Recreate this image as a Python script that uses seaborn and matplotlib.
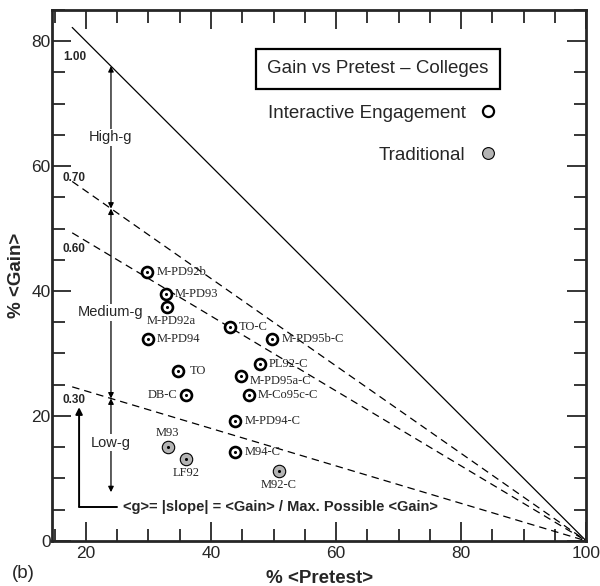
import matplotlib
matplotlib.use("Agg")
import numpy as np
import pandas as pd
import matplotlib.pyplot as plt
import seaborn as sns
from matplotlib.lines import Line2D
from matplotlib.ticker import MultipleLocator

# =========================================================
# DATA
# =========================================================

ie_labels = ["M-PD92b", "M-PD93", "M-PD92a", "M-PD94", "TO-C", "M-PD95b-C",
             "PL92-C", "TO", "M-PD95a-C", "DB-C", "M-Co95c-C", "M-PD94-C", "M94-C"]
ie_pretest = [29.8, 32.8, 33.0, 29.9, 43.0, 49.8, 47.8, 34.7, 44.8, 36.0, 46.1, 43.9, 43.9]
ie_gain = [43.1, 39.5, 37.4, 32.3, 34.3, 32.3, 28.3, 27.2, 26.4, 23.4, 23.3, 19.2, 14.3]

trad_labels = ["M93", "LF92", "M92-C"]
trad_pretest = [33.1, 36.0, 50.8]
trad_gain = [15.1, 13.1, 11.2]

g_values = [1.00, 0.70, 0.60, 0.30]
g_names = ["1.00", "0.70", "0.60", "0.30"]
pretest_ends = [17.8, 100]

band_names = ["High-g", "Medium-g", "Low-g"]

# =========================================================
# STYLE / LAYOUT
# =========================================================

SANS = "Liberation Sans"
SERIF = "Liberation Serif"

# label offsets in pixels: (dx, dy, ha)
label_pos = {
    "M-PD92a": (4, -14, "center"),
    "DB-C": (-9, 0, "right"),
    "M93": (0, 14, "center"),
    "LF92": (0, -14, "center"),
    "M92-C": (0, -14, "center"),
    "M-PD95a-C": (9, -5, "left"),
    "TO": (12, 0, "left"),
}
g_label_xy = [(16.3, 77.4), (16.3, 58.1), (16.3, 46.7), (16.3, 22.6)]
band_label_y = [64.6, 36.6, 15.7]
arrow_x = 24.0

sns.set_style("ticks")
plt.rcParams["font.family"] = [SANS, "DejaVu Sans"]

fig = plt.figure(figsize=(6, 5.86), dpi=100)
ax = fig.add_axes([0.087, 0.077, 0.89, 0.906])

# g lines
xs = np.array(pretest_ends, dtype=float)
for g in g_values:
    line_df = pd.DataFrame({"pre": xs, "gain": g * (100 - xs)})
    sns.lineplot(data=line_df, x="pre", y="gain", ax=ax, color="black",
                 lw=0.9, linestyle="-" if g == 1.0 else (0, (6, 4)))

for name, (lx, ly) in zip(g_names, g_label_xy):
    ax.text(lx, ly, name, fontsize=8.5, fontweight="bold", ha="left", va="center")

# band arrows
bounds = [g * (100 - arrow_x) for g in g_values if g != 0.60] + [7.8]
for top, bot in zip(bounds[:-1], bounds[1:]):
    ax.annotate("", xy=(arrow_x, bot), xytext=(arrow_x, top),
                arrowprops=dict(arrowstyle="<|-|>", color="black", lw=0.9,
                                mutation_scale=8, shrinkA=0, shrinkB=0))
for name, y in zip(band_names, band_label_y):
    ax.text(arrow_x, y, name, fontsize=10.5, ha="center", va="center",
            bbox=dict(fc="white", ec="none", pad=1))

# points
sns.scatterplot(x=ie_pretest, y=ie_gain, ax=ax, s=62, marker="o",
                facecolor="white", edgecolor="black", linewidth=1.9, zorder=4)
sns.scatterplot(x=trad_pretest, y=trad_gain, ax=ax, s=80, marker="o",
                facecolor="#b4b4b4", edgecolor="black", linewidth=0.8, zorder=4)
sns.scatterplot(x=ie_pretest + trad_pretest, y=ie_gain + trad_gain, ax=ax,
                s=5, marker="o", color="black", linewidth=0, zorder=5)

for lab, px, py in zip(ie_labels + trad_labels, ie_pretest + trad_pretest,
                       ie_gain + trad_gain):
    dx, dy, ha = label_pos.get(lab, (9, 0, "left"))
    ax.annotate(lab, (px, py), xytext=(dx, dy), textcoords="offset pixels",
                ha=ha, va="center", fontsize=9, family=SERIF, zorder=6)

# L-shaped arrow + slope text
ax.annotate("", xy=(18.9, 21.4), xytext=(18.9, 5.5),
            arrowprops=dict(arrowstyle="-|>", color="black", lw=1.4,
                            mutation_scale=10, shrinkA=0, shrinkB=0))
ax.plot([18.9, 24.9], [5.5, 5.5], color="black", lw=1.4)
ax.text(25.9, 5.5, "<g>= |slope| = <Gain> / Max. Possible <Gain>",
        fontsize=10.5, fontweight="bold", ha="left", va="center")

# title box + legend
ax.text(0.61, 0.889, "Gain vs Pretest \u2013 Colleges", transform=ax.transAxes,
        fontsize=13.5, ha="center", va="center",
        bbox=dict(boxstyle="square,pad=0.6", fc="white", ec="black", lw=1.6))

handles = [
    Line2D([], [], ls="", marker="o", markersize=8, mfc="white", mec="black", mew=1.6),
    Line2D([], [], ls="", marker="o", markersize=8.5, mfc="#b4b4b4", mec="black", mew=0.8),
]
ax.legend(handles, ["Interactive Engagement", "Traditional"], loc="upper right",
          bbox_to_anchor=(0.83, 0.822), frameon=False, markerfirst=False,
          fontsize=13.5, handlelength=0.8, handletextpad=0.8, labelspacing=1.35,
          borderpad=0, borderaxespad=0)

# axes
ax.set_xlim(14.6, 100)
ax.set_ylim(0, 85)
ax.xaxis.set_major_locator(MultipleLocator(20))
ax.xaxis.set_minor_locator(MultipleLocator(5))
ax.yaxis.set_major_locator(MultipleLocator(20))
ax.yaxis.set_minor_locator(MultipleLocator(5))
ax.tick_params(which="both", direction="in", top=True, right=True, width=1.3,
               labelsize=12.5)
ax.tick_params(which="major", length=14)
ax.tick_params(which="minor", length=9)
ax.tick_params(axis="y", pad=1)
ax.tick_params(axis="x", pad=4)
for sp in ax.spines.values():
    sp.set_linewidth(2)
    sp.set_visible(True)

ax.set_xlabel("% <Pretest>", fontsize=13.5, fontweight="bold", labelpad=0)
ax.set_ylabel("% <Gain>", fontsize=13.5, fontweight="bold", labelpad=0)
ax.xaxis.set_label_coords(0.5, -0.055)
ax.yaxis.set_label_coords(-0.05, 0.5)
fig.text(0.02, 0.022, "(b)", fontsize=13.5, ha="left", va="center")

fig.savefig("out.png", dpi=100)
